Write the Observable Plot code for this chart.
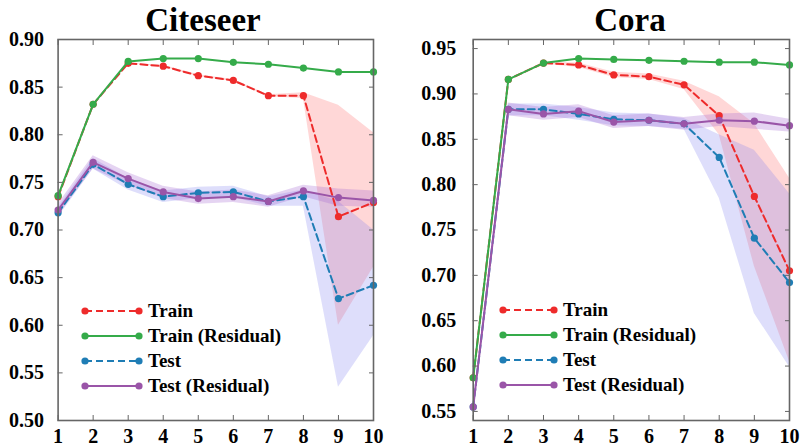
<!DOCTYPE html>
<html><head><meta charset="utf-8">
<script src="https://cdn.jsdelivr.net/npm/d3@7"></script>
<script src="https://cdn.jsdelivr.net/npm/@observablehq/plot@0.6"></script>
<style>
body{margin:0;background:#fff;}
#root{position:relative;width:800px;height:447px;overflow:hidden;font-family:"Liberation Serif","Times New Roman",serif;font-weight:bold;color:#000;}
.panel{position:absolute;top:0;width:400px;height:447px;}
.panel svg{position:absolute;left:0;top:0;}
.title{position:absolute;font-size:33px;line-height:33px;top:4px;transform:translateX(-50%);white-space:nowrap;}
.leg{position:absolute;display:flex;align-items:center;font-size:19px;height:22px;white-space:nowrap;transform:translateY(-50%);}
.leg svg{position:static;margin-right:5px;}
</style></head><body><div id="root"></div>
<script>
const layers = [1, 2, 3, 4, 5, 6, 7, 8, 9, 10];
const seriesNames = ["Train", "Train (Residual)", "Test", "Test (Residual)"];
const seriesColors = ["#ee2b2b", "#35ab4a", "#1f7db5", "#9a55a8"];
const bandColors = ["#ff7a7a", "#35ab4a", "#7b7bf0", "#a066d0"];
const seriesDashed = [true, false, true, false];

// Citeseer
const citeTitle = "Citeseer";
const citeYTicks = [0.50, 0.55, 0.60, 0.65, 0.70, 0.75, 0.80, 0.85, 0.90];
const citeTrain    = [0.735, 0.832, 0.875, 0.872, 0.862, 0.857, 0.841, 0.841, 0.714, 0.729];
const citeTrainLo  = [0.735, 0.832, 0.875, 0.871, 0.861, 0.856, 0.840, 0.838, 0.600, 0.661];
const citeTrainHi  = [0.735, 0.832, 0.875, 0.873, 0.863, 0.858, 0.842, 0.844, 0.831, 0.802];
const citeTrainRes   = [0.736, 0.832, 0.877, 0.880, 0.880, 0.876, 0.874, 0.870, 0.866, 0.866];
const citeTrainResLo = [0.736, 0.832, 0.877, 0.880, 0.880, 0.876, 0.874, 0.870, 0.866, 0.866];
const citeTrainResHi = [0.736, 0.832, 0.877, 0.880, 0.880, 0.876, 0.874, 0.870, 0.866, 0.866];
const citeTest    = [0.718, 0.769, 0.748, 0.735, 0.739, 0.740, 0.730, 0.735, 0.628, 0.642];
const citeTestLo  = [0.713, 0.764, 0.742, 0.729, 0.733, 0.734, 0.725, 0.725, 0.535, 0.589];
const citeTestHi  = [0.723, 0.775, 0.754, 0.741, 0.745, 0.746, 0.735, 0.742, 0.730, 0.700];
const citeTestRes   = [0.721, 0.771, 0.754, 0.740, 0.733, 0.735, 0.730, 0.741, 0.734, 0.731];
const citeTestResLo = [0.715, 0.764, 0.747, 0.733, 0.727, 0.729, 0.724, 0.735, 0.725, 0.724];
const citeTestResHi = [0.727, 0.778, 0.760, 0.746, 0.740, 0.742, 0.736, 0.747, 0.743, 0.741];

// Cora
const coraTitle = "Cora";
const coraYTicks = [0.55, 0.60, 0.65, 0.70, 0.75, 0.80, 0.85, 0.90, 0.95];
const coraTrain    = [0.587, 0.916, 0.934, 0.932, 0.921, 0.919, 0.910, 0.876, 0.787, 0.705];
const coraTrainLo  = [0.587, 0.916, 0.933, 0.929, 0.918, 0.916, 0.905, 0.855, 0.710, 0.605];
const coraTrainHi  = [0.587, 0.916, 0.935, 0.934, 0.924, 0.922, 0.914, 0.897, 0.867, 0.807];
const coraTrainRes   = [0.587, 0.916, 0.934, 0.939, 0.938, 0.937, 0.936, 0.935, 0.935, 0.932];
const coraTrainResLo = [0.587, 0.916, 0.934, 0.939, 0.938, 0.937, 0.936, 0.935, 0.935, 0.932];
const coraTrainResHi = [0.587, 0.916, 0.934, 0.939, 0.938, 0.937, 0.936, 0.935, 0.935, 0.932];
const coraTest    = [0.555, 0.883, 0.883, 0.878, 0.872, 0.871, 0.867, 0.830, 0.741, 0.692];
const coraTestLo  = [0.553, 0.876, 0.876, 0.871, 0.865, 0.864, 0.861, 0.785, 0.658, 0.599];
const coraTestHi  = [0.557, 0.889, 0.889, 0.885, 0.879, 0.878, 0.873, 0.855, 0.838, 0.790];
const coraTestRes   = [0.555, 0.883, 0.878, 0.881, 0.869, 0.871, 0.867, 0.871, 0.870, 0.865];
const coraTestResLo = [0.553, 0.876, 0.871, 0.874, 0.862, 0.864, 0.860, 0.864, 0.861, 0.858];
const coraTestResHi = [0.557, 0.890, 0.885, 0.888, 0.876, 0.878, 0.874, 0.878, 0.879, 0.872];

function rows(v, lo, hi) {
  return layers.map((l, i) => ({layer: l, v: v[i], lo: lo[i], hi: hi[i]}));
}

function makePanel(cfg) {
  const data = cfg.series.map(s => rows(s[0], s[1], s[2]));
  const marks = [];
  const bandOpacity = [0.3, 0, 0.25, 0.28];
  [0, 2, 3].forEach(k => {
    marks.push(Plot.areaY(data[k], {x: "layer", y1: "lo", y2: "hi", fill: bandColors[k], fillOpacity: bandOpacity[k]}));
  });
  [0, 2, 1, 3].forEach(k => {
    marks.push(Plot.line(data[k], {x: "layer", y: "v", stroke: seriesColors[k], strokeWidth: 2,
      strokeDasharray: seriesDashed[k] ? "7,4" : null}));
    marks.push(Plot.dot(data[k], {x: "layer", y: "v", r: 3.6, fill: seriesColors[k], stroke: "none"}));
  });
  const tickStroke = "#666";
  marks.push(
    Plot.axisY(cfg.yTicks, {anchor: "left", label: null, tickSize: 0, tickPadding: cfg.yPad, tickFormat: d3.format(".2f"),
      fontSize: 20, fontWeight: "bold", fill: "#000"}),
    Plot.axisY(cfg.yTicks, {anchor: "left", label: null, tickSize: 5, dx: 5, tickFormat: () => "", stroke: tickStroke}),
    Plot.axisY(cfg.yTicks, {anchor: "right", label: null, tickSize: 5, dx: -5, tickFormat: () => "", stroke: tickStroke}),
    Plot.axisX(layers, {anchor: "bottom", label: null, tickSize: 0, tickPadding: 8, tickFormat: d => String(d),
      fontSize: 20, fontWeight: "bold", fill: "#000"}),
    Plot.axisX(layers, {anchor: "bottom", label: null, tickSize: 5, dy: -5, tickFormat: () => "", stroke: tickStroke}),
    Plot.axisX(layers, {anchor: "top", label: null, tickSize: 5, dy: 5, tickFormat: () => "", stroke: tickStroke}),
    Plot.frame({stroke: "#666", strokeWidth: 1.6})
  );
  const svg = Plot.plot({
    width: 400, height: 447,
    marginLeft: cfg.ml, marginRight: cfg.mr, marginTop: 39, marginBottom: 27,
    x: {domain: [1, 10], label: null},
    y: {domain: cfg.domain, label: null},
    style: {fontFamily: '"Liberation Serif", "Times New Roman", serif', fontWeight: "bold", background: "transparent", overflow: "visible"},
    marks
  });
  const div = document.createElement("div");
  div.className = "panel";
  div.style.left = cfg.x0 + "px";
  div.appendChild(svg);
  const t = document.createElement("div");
  t.className = "title";
  t.textContent = cfg.title;
  t.style.left = cfg.titleX + "px";
  div.appendChild(t);
  seriesNames.forEach((name, k) => {
    const row = document.createElement("div");
    row.className = "leg";
    row.style.left = (cfg.legX - 4) + "px";
    row.style.top = (cfg.legY + k * 25) + "px";
    const w = cfg.legW;
    const ns = "http://www.w3.org/2000/svg";
    const sw = document.createElementNS(ns, "svg");
    sw.setAttribute("width", w + 8);
    sw.setAttribute("height", 10);
    const ln = document.createElementNS(ns, "line");
    ln.setAttribute("x1", 4); ln.setAttribute("x2", w + 4);
    ln.setAttribute("y1", 5); ln.setAttribute("y2", 5);
    ln.setAttribute("stroke", seriesColors[k]); ln.setAttribute("stroke-width", 2);
    if (seriesDashed[k]) ln.setAttribute("stroke-dasharray", "7,4");
    sw.appendChild(ln);
    [4, w + 4].forEach(cx => {
      const c = document.createElementNS(ns, "circle");
      c.setAttribute("cx", cx); c.setAttribute("cy", 5); c.setAttribute("r", 3.6);
      c.setAttribute("fill", seriesColors[k]);
      sw.appendChild(c);
    });
    row.appendChild(sw);
    const span = document.createElement("span");
    span.textContent = name;
    row.appendChild(span);
    div.appendChild(row);
  });
  document.getElementById("root").appendChild(div);
}

makePanel({
  x0: 0, title: citeTitle, titleX: 203, domain: [0.50, 0.90], yTicks: citeYTicks, yPad: 14,
  ml: 57.6, mr: 27, legX: 85, legY: 311, legW: 54,
  series: [[citeTrain, citeTrainLo, citeTrainHi], [citeTrainRes, citeTrainResLo, citeTrainResHi],
           [citeTest, citeTestLo, citeTestHi], [citeTestRes, citeTestResLo, citeTestResHi]]
});
makePanel({
  x0: 400, title: coraTitle, titleX: 230, domain: [0.54, 0.96], yTicks: coraYTicks, yPad: 17,
  ml: 72.7, mr: 11, legX: 103, legY: 310, legW: 51,
  series: [[coraTrain, coraTrainLo, coraTrainHi], [coraTrainRes, coraTrainResLo, coraTrainResHi],
           [coraTest, coraTestLo, coraTestHi], [coraTestRes, coraTestResLo, coraTestResHi]]
});
</script></body></html>
